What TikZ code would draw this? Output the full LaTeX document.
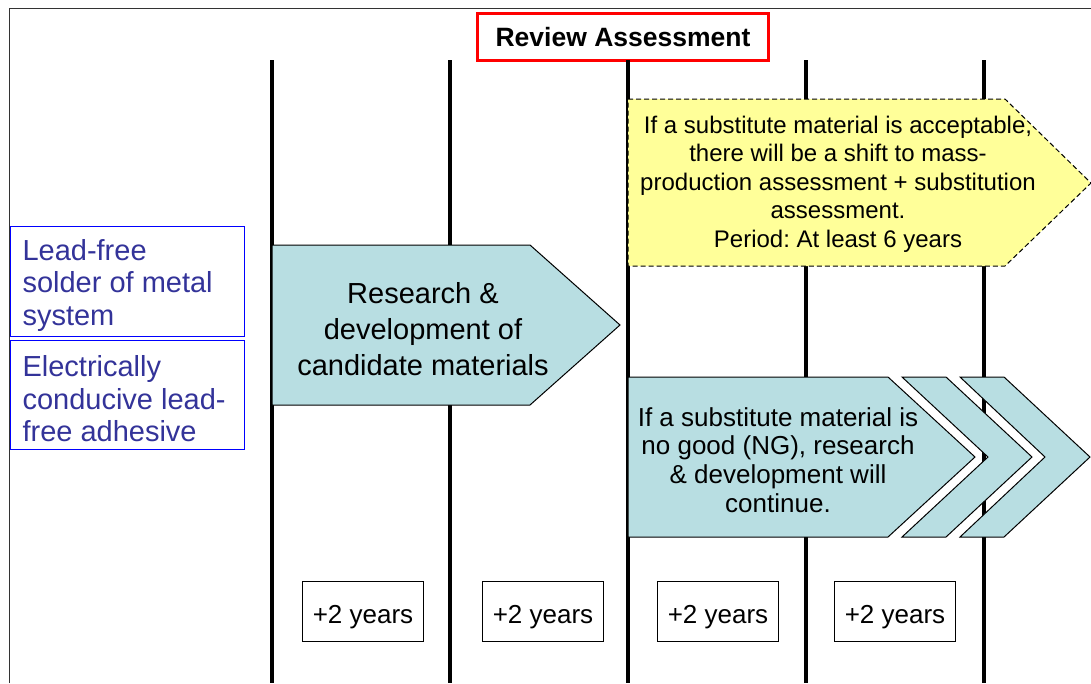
\documentclass[tikz,border=0pt]{standalone}
\usepackage{fontspec}
\setmainfont{Liberation Sans}
\frenchspacing
\definecolor{tealfill}{HTML}{B8DEE2}
\definecolor{notefill}{HTML}{FFFF99}
\definecolor{labelblue}{HTML}{333399}
\def\researcharrow{(272,245) -- (530,245) -- (620,325) -- (530,405) -- (272,405) -- cycle}
\def\acceptarrow{(628,99) -- (1005,99) -- (1091,183) -- (1005,266) -- (628,266) -- cycle}
\def\ngarrow{(628,377) -- (888,377) -- (975,457) -- (888,537) -- (628,537) -- cycle}
\def\firstchevron{(902,377) -- (946,377) -- (1032,457) -- (946,537) -- (902,537) -- (988,457) -- cycle}
\def\secondchevron{(960,377) -- (1004,377) -- (1090,457) -- (1004,537) -- (960,537) -- (1045,457) -- cycle}
\tikzset{
  bigtext/.style={align=center, font=\fontsize{29}{36}\selectfont},
  notetext/.style={align=center, font=\fontsize{24}{28.5}\selectfont},
  ngtext/.style={align=center, font=\fontsize{26}{28.7}\selectfont},
  sidebox/.style={draw=blue, line width=1pt},
  sidetext/.style={anchor=west, align=left, text=labelblue, font=\fontsize{29}{32.5}\selectfont},
  yearbox/.style={draw, line width=1pt, minimum width=121pt, minimum height=60pt,
    text height=29pt, text depth=5pt, font=\fontsize{26}{30}\selectfont}
}
\begin{document}
\begin{tikzpicture}[x=1pt,y=-1pt]
\useasboundingbox (0,0) rectangle (1091,683);
\draw[line width=1pt, black!80] (9,683) -- (9,8) -- (1091,8);

\node[draw=red, line width=3pt, minimum width=291pt, minimum height=47pt,
  font=\bfseries\fontsize{26.5}{30}\selectfont] (review) at (623,37) {Review Assessment};

\foreach \x in {272,450,628,806,984}
  \draw[line width=4pt] (\x,60) -- (\x,683);

\draw[sidebox] (10,226) rectangle (244,336);
\node[sidetext] (metal) at (19,285) {Lead-free\\solder of metal\\system};
\draw[sidebox] (10,340) rectangle (244,449);
\node[sidetext] (adhesive) at (19,399) {Electrically\\conducive lead-\\free adhesive};

\filldraw[fill=tealfill, draw=black, line width=1pt] \researcharrow;
\node[bigtext] (research) at (423,329) {Research \&\\development of\\candidate materials};

\filldraw[fill=notefill, draw=black, line width=1pt, dash pattern=on 5pt off 3pt] \acceptarrow;
\node[notetext] (accept) at (838,184) {If a substitute material is acceptable,\\there will be a shift to mass-\\production assessment + substitution\\assessment.\\Period: At least 6 years};

\filldraw[fill=tealfill, draw=black, line width=1pt] \ngarrow;
\filldraw[fill=tealfill, draw=black, line width=1pt] \firstchevron;
\filldraw[fill=tealfill, draw=black, line width=1pt] \secondchevron;
\node[ngtext] (nogood) at (778,460) {If a substitute material is\\no good (NG), research\\\& development will\\continue.};

\node[yearbox] (yearA) at (363,611) {+2 years};
\node[yearbox] (yearB) at (543,611) {+2 years};
\node[yearbox] (yearC) at (718,611) {+2 years};
\node[yearbox] (yearD) at (895,611) {+2 years};
\end{tikzpicture}
\end{document}
